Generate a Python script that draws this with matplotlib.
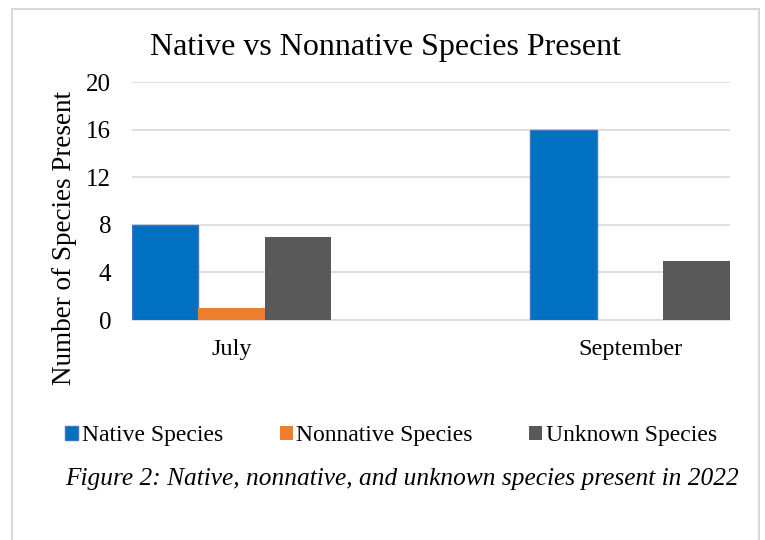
import numpy as np
import matplotlib
matplotlib.use("Agg")
import matplotlib.pyplot as plt
from matplotlib.patches import Rectangle

months = ["July", "September"]
native = [8, 16]
nonnative = [1, 0]
unknown = [7, 5]
series_names = ["Native Species", "Nonnative Species", "Unknown Species"]
yticks = [0, 4, 8, 12, 16, 20]

plt.rcParams['font.family'] = ['Liberation Serif', 'DejaVu Serif']

fig = plt.figure(figsize=(7.65, 5.4), dpi=100)
ax = fig.add_axes([0.1725, 0.4074, 0.7815, 0.4407])

x = np.arange(len(months))
w = 0.167
ax.bar(x - w, native, w, color='#0070C0', edgecolor='#4472C4', linewidth=1.0, label=series_names[0], zorder=3)
ax.bar(x, nonnative, w, color='#ED7D31', label=series_names[1], zorder=3)
ax.bar(x + w, unknown, w, color='#595959', label=series_names[2], zorder=3)

ax.set_xlim(-0.25, 1.25)
ax.set_ylim(0, 20)
ax.set_yticks(yticks)
ax.set_xticks(x)
ax.set_xticklabels(months, fontsize=17.5)
ax.tick_params(axis='y', labelsize=18, length=0, pad=15)
ax.tick_params(axis='x', length=0, pad=14)
ax.yaxis.grid(True, color='#d9d9d9', linewidth=1.2, zorder=0)
for s in ['top', 'right', 'left']:
    ax.spines[s].set_visible(False)
ax.spines['bottom'].set_color('#d9d9d9')
ax.spines['bottom'].set_linewidth(1.2)

fig.text(65 / 765, 1 - 238 / 540, "Number of Species Present", rotation=90,
         ha='center', va='center', fontsize=19.5)

fig.text(386 / 765, 1 - 48 / 540, "Native vs Nonnative Species Present",
         ha='center', va='center', fontsize=23)

fig.legend(loc='center', bbox_to_anchor=(391 / 765, 1 - 436 / 540), ncol=3, frameon=False,
           fontsize=17, handlelength=0.55, handleheight=0.55, handletextpad=0.15,
           columnspacing=2.4)

fig.text(402 / 765, 1 - 479 / 540,
         "Figure 2: Native, nonnative, and unknown species present in 2022",
         ha='center', va='center', fontsize=18.3, style='italic')

# light border around the chart
fig.patches.append(Rectangle((12 / 765, -0.05), (759 - 12) / 765, 1.05 - 9 / 540,
                             transform=fig.transFigure, fill=False,
                             edgecolor='#d9d9d9', linewidth=1.5))

fig.savefig("out.png", dpi=100)
